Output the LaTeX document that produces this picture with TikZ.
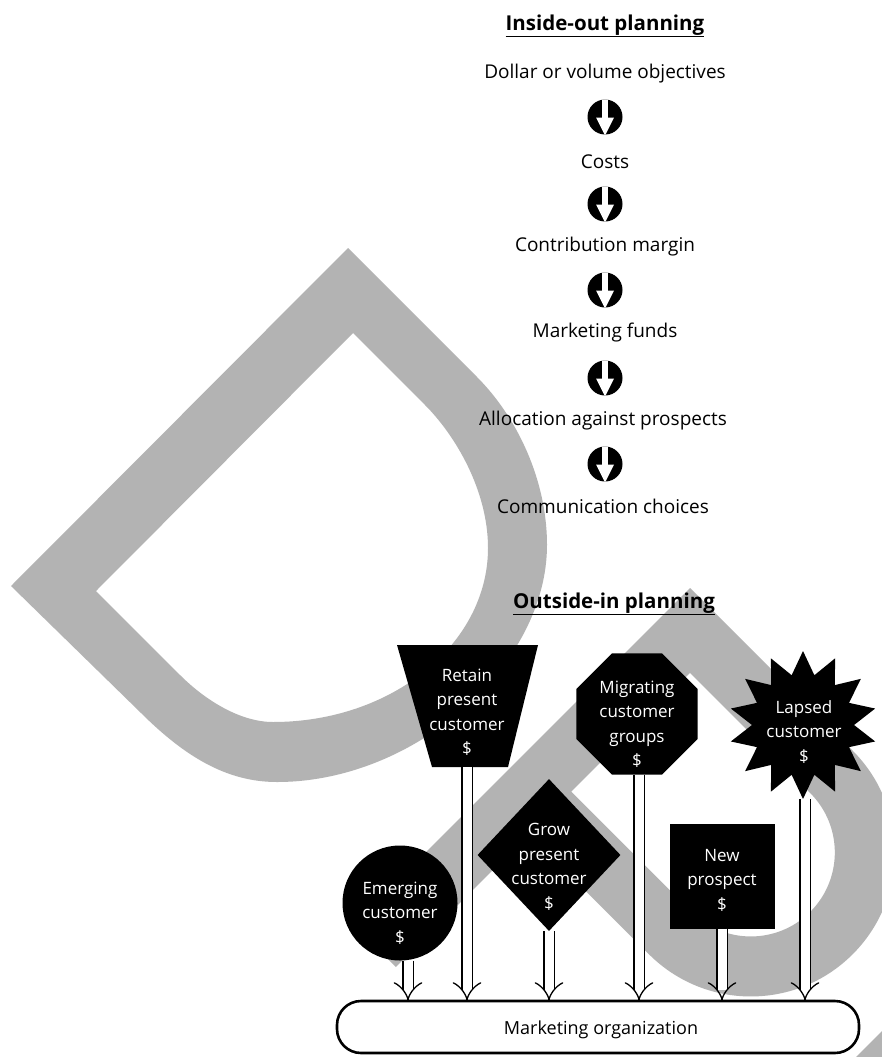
\documentclass[tikz,border=0pt]{standalone}
\usepackage{fontspec}
\setmainfont{Open Sans}
\usetikzlibrary{shapes.geometric,arrows.meta}
\definecolor{wmgray}{HTML}{B3B3B3}
\tikzset{
  lbl/.style={font=\fontsize{19}{22}\selectfont, inner sep=0pt},
  ttl/.style={font=\bfseries\fontsize{20.5}{24}\selectfont, inner sep=0pt},
  signtext/.style={text=white, font=\fontsize{17}{24.5}\selectfont, align=center, inner sep=0pt},
  signshape/.style={fill=black, draw=none, inner sep=0pt},
  flow/.style={draw=black, line width=1.3pt, double=white, double distance=9pt, -{Implies}},
  downicon/.style={circle, fill=black, minimum size=35pt, inner sep=0pt,
    path picture={
      \fill[white] ([xshift=-3.2pt,yshift=1pt]path picture bounding box.north)
        rectangle ([xshift=3.2pt,yshift=-1pt]path picture bounding box.center);
      \fill[white] ([xshift=-9pt,yshift=-0.5pt]path picture bounding box.center)
        -- ([xshift=9pt,yshift=-0.5pt]path picture bounding box.center)
        -- ([yshift=-1pt]path picture bounding box.south) -- cycle;
    }},
}
\begin{document}
\begin{tikzpicture}[x=1pt,y=1pt]
\useasboundingbox (0,0) rectangle (882,-1057);
\fill[white] (0,0) rectangle (882,-1057);

% large grey letter shapes in the background: a "D" ...
\fill[wmgray, even odd rule]
  (348,-248) -- (477,-377) .. controls (517,-417) and (547,-480) .. (547,-545)
    .. controls (547,-665) and (415,-782) .. (277,-782)
    .. controls (227,-782) and (185,-757) .. (140,-712) -- (11,-586) -- cycle
  (353,-333) -- (425,-405) .. controls (455,-435) and (488,-490) .. (488,-548)
    .. controls (488,-644) and (392,-722) .. (273,-722)
    .. controls (240,-722) and (205,-700) .. (180,-675) -- (96,-591) -- cycle;
% ... a "P" ...
\begin{scope}[shift={(690,-588)}, rotate=-45]
  \fill[wmgray, even odd rule]
    (0,0) -- (230,0) arc[start angle=90, end angle=-90, radius=144]
      -- (60,-288) -- (60,-476) -- (0,-476) -- cycle
    (60,-60) -- (230,-60) arc[start angle=90, end angle=-90, radius=84]
      -- (60,-228) -- cycle;
\end{scope}
% ... and the edge of a third one in the corner
\fill[wmgray] (856,-1057) -- (882,-1031) -- (882,-1057) -- cycle;

% inside-out chain
\node[ttl] (ttlin) at (605,-26) {\underline{Inside-out planning}};
\node[lbl] (obj)  at (605,-74)  {Dollar or volume objectives};
\node[downicon] (d1) at (605,-117) {};
\node[lbl] (cost) at (605,-162) {Costs};
\node[downicon] (d2) at (605,-204) {};
\node[lbl] (cm)   at (605,-247) {Contribution margin};
\node[downicon] (d3) at (605,-290) {};
\node[lbl] (mf)   at (605,-333) {Marketing funds};
\node[downicon] (d4) at (605,-378) {};
\node[lbl] (alloc) at (603,-421) {Allocation against prospects};
\node[downicon] (d5) at (605,-464) {};
\node[lbl] (comm) at (603,-506) {Communication choices};

% outside-in signs
\node[ttl] (ttlout) at (614,-604) {\underline{Outside-in planning}};

\fill[black] (397,-645) -- (538,-645) -- (508,-767) -- (432,-767) -- cycle;
\coordinate (retainbot) at (467,-767);
\node[signtext] (retain) at (467,-712) {Retain\\present\\customer\\\$};

\node[signshape, regular polygon, regular polygon sides=8, minimum size=131pt] (migshape) at (637,-714) {};
\node[signtext] (mig) at (637,-724) {Migrating\\customer\\groups\\\$};

\node[signshape, star, star points=14, star point ratio=1.45, minimum size=148pt] (lapshape) at (803,-725) {};
\node[signtext] (lap) at (804,-732) {Lapsed\\customer\\\$};

\node[signshape, diamond, minimum width=143pt, minimum height=152pt] (growshape) at (549,-855) {};
\node[signtext] (grow) at (549,-867) {Grow\\present\\customer\\\$};

\node[signshape, circle, minimum size=115pt] (emshape) at (400,-903) {};
\node[signtext] (em) at (400,-913) {Emerging\\customer\\\$};

\node[signshape, minimum width=105pt, minimum height=105pt] (newshape) at (722,-876) {};
\node[signtext] (new) at (722,-880) {New\\prospect\\\$};

% receiving organisation
\node[draw=black, line width=2.6pt, fill=white, rounded corners=24pt,
      minimum width=522pt, minimum height=52pt, inner sep=0pt] (mkt) at (598,-1027) {};
\node[font=\fontsize{18}{21}\selectfont, inner sep=0pt] (mkttext) at (601,-1030) {Marketing organization};

% funding flows
\draw[flow] (emshape.south -| 408,0) -- (408,-1001);
\draw[flow] (retainbot) -- (467,-1001);
\draw[flow] (growshape.south) -- (549,-1001);
\draw[flow] (migshape.south -| 639,0) -- (639,-1001);
\draw[flow] (newshape.south) -- (722,-1001);
\draw[flow] (lapshape.south -| 805,0) -- (805,-1001);
\end{tikzpicture}
\end{document}
